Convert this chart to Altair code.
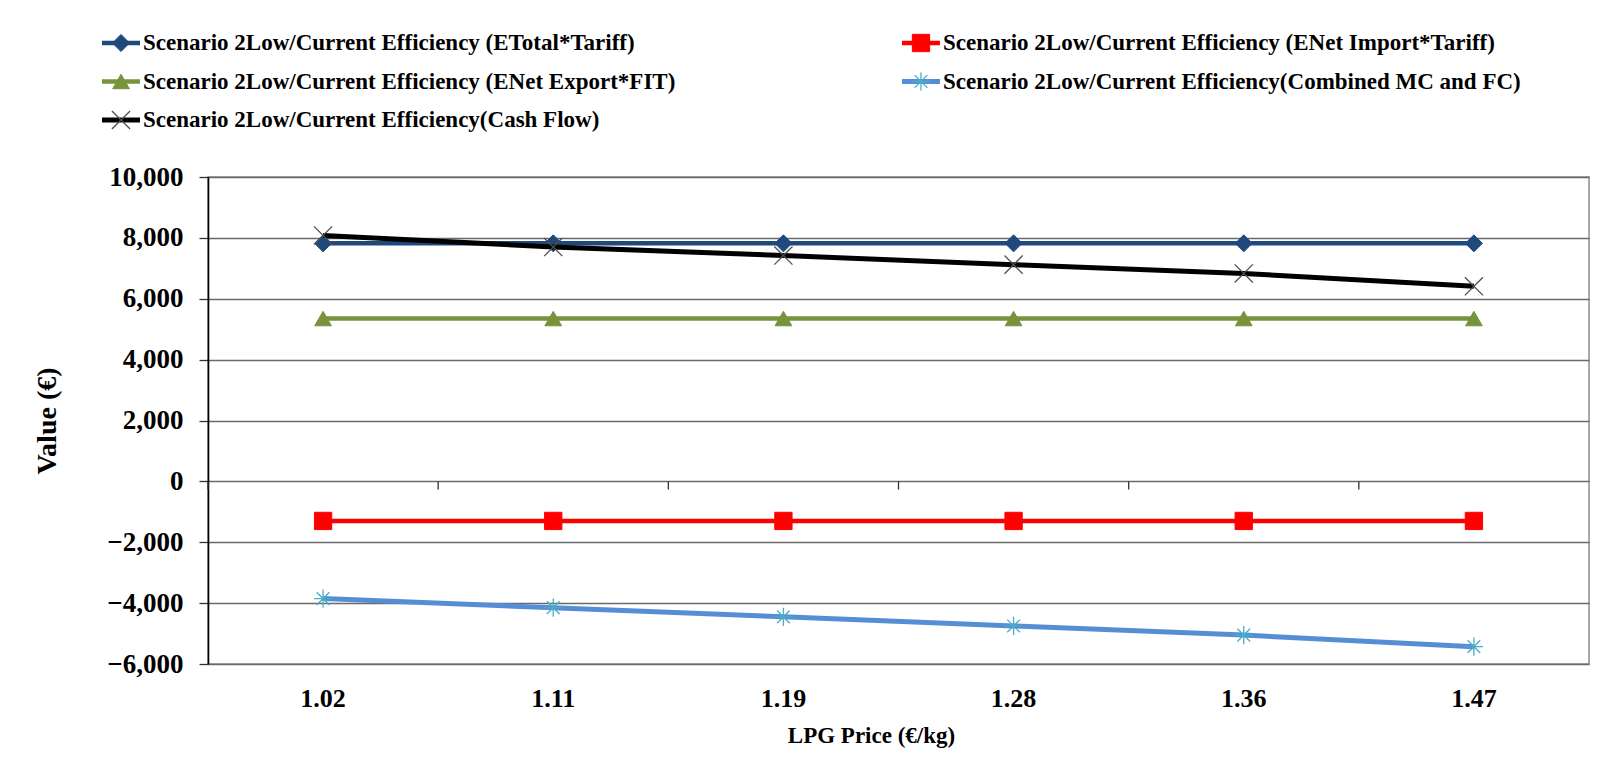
import altair as alt
import pandas as pd

prices = ["1.02", "1.11", "1.19", "1.28", "1.36", "1.47"]

names = [
    "Scenario 2Low/Current Efficiency (ETotal*Tariff)",
    "Scenario 2Low/Current Efficiency (ENet Import*Tariff)",
    "Scenario 2Low/Current Efficiency (ENet Export*FIT)",
    "Scenario 2Low/Current Efficiency(Combined MC and FC)",
    "Scenario 2Low/Current Efficiency(Cash Flow)",
]

etotal_tariff = [7820, 7820, 7820, 7820, 7820, 7820]
import_tariff = [-1300, -1300, -1300, -1300, -1300, -1300]
export_fit = [5350, 5350, 5350, 5350, 5350, 5350]
combined_mc_fc = [-3850, -4150, -4450, -4750, -5050, -5430]
cash_flow = [8080, 7700, 7420, 7120, 6830, 6410]

values = [etotal_tariff, import_tariff, export_fit, combined_mc_fc, cash_flow]

line_colors = ["#1F497D", "#FF0000", "#77933C", "#558ED5", "#000000"]
line_widths = [4.5, 4.5, 4.5, 5, 5]
marker_shapes = [
    "diamond",
    "square",
    "triangle-up",
    "M-1,0L1,0M0,-1L0,1M-0.7,-0.7L0.7,0.7M-0.7,0.7L0.7,-0.7",
    "M-1,-1L1,1M-1,1L1,-1",
]
marker_fill = ["#1F497D", "#FF0000", "#77933C", "transparent", "transparent"]
marker_stroke = ["#1F497D", "#FF0000", "#77933C", "#4BACC6", "#505050"]
marker_size = [290, 300, 280, 330, 330]
marker_sw = [1, 1, 1, 1.3, 1.3]

legend_col = [0, 1, 0, 1, 0]
legend_row = [0, 0, 1, 1, 2]

rows = []
for name, vals in zip(names, values):
    for p, v in zip(prices, vals):
        rows.append({"price": p, "series": name, "value": v})
df = pd.DataFrame(rows)
legend_df = pd.DataFrame({"series": names, "col": legend_col, "row": legend_row})
tick_df = pd.DataFrame({"price": prices})

FONT = "Liberation Serif"

x_scale = alt.Scale(type="band", paddingInner=0, paddingOuter=0)
x_axis = alt.Axis(
    title="LPG Price (€/kg)",
    domain=False,
    ticks=False,
    grid=False,
    labelAngle=0,
    labelPadding=21,
    labelFontSize=26,
    titleFontSize=23,
    titleX=663,
    titleY=71,
    titleBaseline="middle",
    titleAlign="center",
)
y_scale = alt.Scale(domain=[-6000, 10000], nice=False)
y_axis = alt.Axis(
    title="Value (€)",
    values=list(range(-6000, 10001, 2000)),
    format=",.0f",
    domain=True,
    domainColor="#000000",
    domainWidth=1.6,
    ticks=True,
    tickSize=9,
    tickColor="#333333",
    tickWidth=1.3,
    grid=True,
    gridColor="#6a6a6a",
    gridWidth=1.3,
    labelPadding=16,
    labelFontSize=27,
    titleFontSize=28,
    titleX=-161,
    titleY=243.5,
    titleAngle=270,
    titleBaseline="middle",
    titleAlign="center",
)

X = alt.X("price:O", sort=prices, bandPosition=0.5, scale=x_scale, axis=x_axis)
Y = alt.Y("value:Q", scale=y_scale, axis=y_axis)

ticks = alt.Chart(tick_df).mark_rule(color="#333333", strokeWidth=1.3).encode(
    x=alt.X("price:O", sort=prices, bandPosition=0, scale=x_scale, axis=x_axis),
    y=alt.datum(0, scale=y_scale, axis=y_axis),
    y2=alt.datum(-270),
)

main_layers = [ticks]
for i, name in enumerate(names):
    base = alt.Chart(df).transform_filter(alt.datum.series == name)
    main_layers.append(
        base.mark_line(color=line_colors[i], strokeWidth=line_widths[i]).encode(x=X, y=Y)
    )
    main_layers.append(
        base.mark_point(
            shape=marker_shapes[i],
            fill=marker_fill[i],
            stroke=marker_stroke[i],
            size=marker_size[i],
            strokeWidth=marker_sw[i],
            opacity=1,
        ).encode(x=X, y=Y)
    )
main = alt.layer(*main_layers)

LX = alt.X("col:Q", scale=alt.Scale(domain=[0, 1], range=[-106, 694]), axis=None)
LX2 = alt.X2("col")
LY = alt.Y("row:Q", scale=alt.Scale(domain=[0, 2], range=[-134, -57]), axis=None)

legend_layers = []
for i, name in enumerate(names):
    lb = alt.Chart(legend_df).transform_filter(alt.datum.series == name)
    legend_layers.append(
        lb.mark_rule(color=line_colors[i], strokeWidth=line_widths[i], x2Offset=38).encode(
            x=LX, x2=LX2, y=LY
        )
    )
    legend_layers.append(
        lb.mark_point(
            shape=marker_shapes[i],
            fill=marker_fill[i],
            stroke=marker_stroke[i],
            size=marker_size[i],
            strokeWidth=marker_sw[i],
            opacity=1,
            xOffset=19,
        ).encode(x=LX, y=LY)
    )
    legend_layers.append(
        lb.mark_text(
            align="left",
            baseline="middle",
            dx=41,
            font=FONT,
            fontWeight="bold",
            fontSize=23,
            color="#000000",
        ).encode(x=LX, y=LY, text="series:N")
    )
legend = alt.layer(*legend_layers)

chart = (
    alt.layer(main, legend)
    .resolve_scale(x="independent", y="independent")
    .properties(
        width=1381,
        height=487,
        autosize=alt.AutoSizeParams(type="none"),
        padding={"left": 200, "top": 169, "right": 10, "bottom": 90},
        background="white",
    )
    .configure_view(stroke="#8c8c8c", strokeWidth=1.5)
    .configure_axis(
        labelFont=FONT,
        labelFontWeight="bold",
        labelColor="#000000",
        titleFont=FONT,
        titleFontWeight="bold",
        titleColor="#000000",
    )
)

chart.save("out.html", embed_options={"renderer": "svg", "actions": False})
